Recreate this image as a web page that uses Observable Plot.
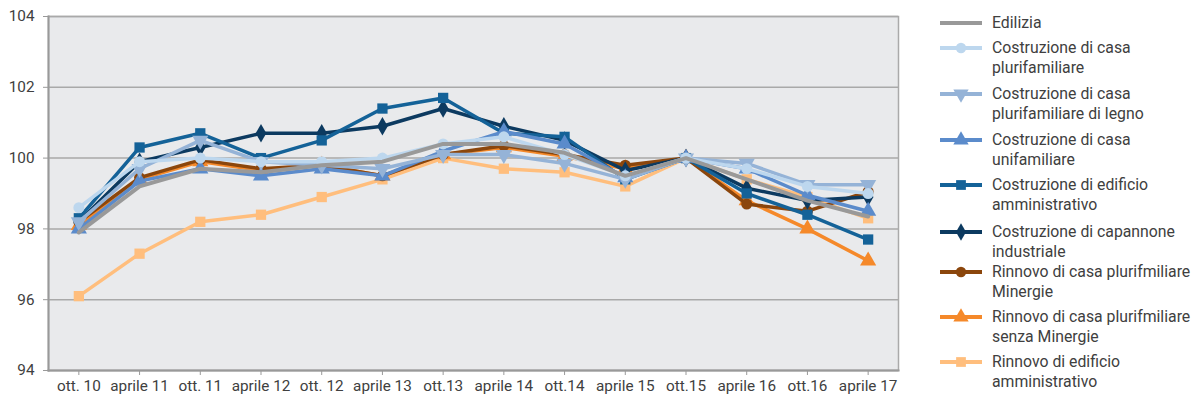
<!DOCTYPE html>
<html>
<head>
<meta charset="utf-8">
<script src="https://cdn.jsdelivr.net/npm/d3@7"></script>
<script src="https://cdn.jsdelivr.net/npm/@observablehq/plot@0.6"></script>
<style>
  body { margin: 0; background: #fff; }
  #wrap { position: relative; width: 1203px; height: 401px; font-family: Roboto, sans-serif; color: #404040; }
  #chart { position: absolute; left: 0; top: 0; }
  .lg { position: absolute; left: 940px; display: flex; align-items: flex-start; }
  .lg svg { flex: none; margin-top: 0; }
  .lg span { font-size: 15.8px; line-height: 20px; margin-left: 10px; color: #404040; white-space: nowrap; }
</style>
</head>
<body>
<div id="wrap"><div id="chart"></div><div id="legend"></div></div>
<script>
const periods = ["ott. 10","aprile 11","ott. 11","aprile 12","ott. 12","aprile 13","ott.13","aprile 14","ott.14","aprile 15","ott.15","aprile 16","ott.16","aprile 17"];
const yTicks = [94, 96, 98, 100, 102, 104];

const seriesNames = [
  "Edilizia",
  "Costruzione di casa plurifamiliare",
  "Costruzione di casa plurifamiliare di legno",
  "Costruzione di casa unifamiliare",
  "Costruzione di edificio amministrativo",
  "Costruzione di capannone industriale",
  "Rinnovo di casa plurifmiliare Minergie",
  "Rinnovo di casa plurifmiliare senza Minergie",
  "Rinnovo di edificio amministrativo"
];
const legendLines = [
  ["Edilizia"],
  ["Costruzione di casa", "plurifamiliare"],
  ["Costruzione di casa", "plurifamiliare di legno"],
  ["Costruzione di casa", "unifamiliare"],
  ["Costruzione di edificio", "amministrativo"],
  ["Costruzione di capannone", "industriale"],
  ["Rinnovo di casa plurifmiliare", "Minergie"],
  ["Rinnovo di casa plurifmiliare", "senza Minergie"],
  ["Rinnovo di edificio", "amministrativo"]
];

const edilizia        = [97.9, 99.2, 99.7, 99.6, 99.8, 99.9, 100.4, 100.4, 100.15, 99.5, 100.0, 99.4, 98.8, 98.35];
const plurifamiliare  = [98.6, 99.9, 100.0, 99.9, 99.9, 100.0, 100.4, 100.6, 100.1, 99.5, 100.0, 99.7, 99.2, 99.0];
const legno           = [98.2, 99.7, 100.5, 99.9, 99.8, 99.7, 100.1, 100.1, 99.85, 99.4, 100.0, 99.85, 99.25, 99.25];
const unifamiliare    = [98.0, 99.35, 99.7, 99.5, 99.7, 99.5, 100.2, 100.75, 100.4, 99.45, 100.0, 99.7, 98.95, 98.5];
const amministrativo  = [98.3, 100.3, 100.7, 100.0, 100.5, 101.4, 101.7, 100.7, 100.6, 99.4, 100.0, 99.0, 98.4, 97.7];
const capannone       = [98.2, 99.9, 100.3, 100.7, 100.7, 100.9, 101.4, 100.9, 100.5, 99.65, 100.0, 99.15, 98.8, 98.9];
const minergie        = [98.2, 99.45, 99.95, 99.7, 99.8, 99.5, 100.1, 100.35, 100.1, 99.8, 100.0, 98.7, 98.5, 99.05];
const senzaMinergie   = [98.1, 99.4, 99.9, 99.65, 99.8, 99.5, 100.1, 100.3, 100.05, 99.7, 100.0, 98.8, 98.0, 97.1];
const rinnovoAmm      = [96.1, 97.3, 98.2, 98.4, 98.9, 99.4, 100.0, 99.7, 99.6, 99.2, 100.0, 99.4, 98.9, 98.3];

const seriesValues = [edilizia, plurifamiliare, legno, unifamiliare, amministrativo, capannone, minergie, senzaMinergie, rinnovoAmm];
const colors  = ["#999999", "#bdd7ee", "#95b3d7", "#5b8bcb", "#146298", "#0c3a60", "#8b460c", "#f5892a", "#ffbe7d"];
const symbols = [null, "circle", "triangle", "triangle", "square", "diamond", "circle", "triangle", "square"];
const rotates = [0, 0, 180, 0, 0, 0, 0, 0, 0];
const sizes   = [0, 5.5, 6, 6, 5.8, 5.6, 5.5, 6, 5.8];

const marks = [
  Plot.frame({fill: "#e9eaec", stroke: "#aaaaaa", strokeWidth: 1.5}),
  Plot.gridY({ticks: yTicks, stroke: "#a9a9a9", strokeOpacity: 1, strokeWidth: 1.5}),
  Plot.frame({anchor: "left", stroke: "#999999", strokeWidth: 2}),
  Plot.frame({anchor: "bottom", stroke: "#999999", strokeWidth: 2}),
  Plot.axisY({ticks: yTicks, tickSize: 5, tickPadding: 9, stroke: "#999999", label: null}),
  Plot.axisX({tickSize: 5, tickPadding: 5, stroke: "#999999", label: null})
];

for (let i = seriesNames.length - 1; i >= 0; i--) {
  const data = periods.map((p, j) => ({period: p, value: seriesValues[i][j], series: seriesNames[i]}));
  marks.push(Plot.line(data, {x: "period", y: "value", stroke: colors[i], strokeWidth: i === 0 ? 4 : 3.5, strokeLinejoin: "miter"}));
  if (symbols[i]) {
    marks.push(Plot.dot(data, {x: "period", y: "value", symbol: () => symbols[i], fill: colors[i], stroke: "none", r: sizes[i], rotate: rotates[i]}));
  }
}

const chart = Plot.plot({
  width: 920, height: 401,
  marginLeft: 48, marginRight: 22, marginTop: 16, marginBottom: 31,
  style: {fontFamily: "Roboto, sans-serif", fontSize: "15.3px", color: "#404040", background: "transparent", overflow: "visible"},
  x: {type: "point", domain: periods, padding: 0.5, round: false, label: null},
  y: {domain: [94, 104], label: null},
  symbol: {type: "identity"},
  marks
});
document.getElementById("chart").appendChild(chart);

// legend
const legendTops = [13, 38, 84, 130, 175, 222, 262, 307, 352];
const legend = document.getElementById("legend");
const symMap = {circle: d3.symbolCircle, triangle: d3.symbolTriangle, square: d3.symbolSquare, diamond: d3.symbolDiamond};
seriesNames.forEach((name, i) => {
  const div = document.createElement("div");
  div.className = "lg";
  div.style.top = legendTops[i] + "px";
  const svg = d3.create("svg").attr("width", 42).attr("height", 20);
  svg.append("line").attr("x1", 0).attr("x2", 42).attr("y1", 10).attr("y2", 10)
    .attr("stroke", colors[i]).attr("stroke-width", 4);
  if (symbols[i]) {
    svg.append("path").attr("d", d3.symbol(symMap[symbols[i]], Math.PI * sizes[i] * sizes[i] * 0.9)())
      .attr("transform", `translate(21,10) rotate(${rotates[i]})`).attr("fill", colors[i]);
  }
  div.appendChild(svg.node());
  const span = document.createElement("span");
  span.innerHTML = legendLines[i].join("<br>");
  div.appendChild(span);
  legend.appendChild(div);
});
</script>
</body>
</html>
